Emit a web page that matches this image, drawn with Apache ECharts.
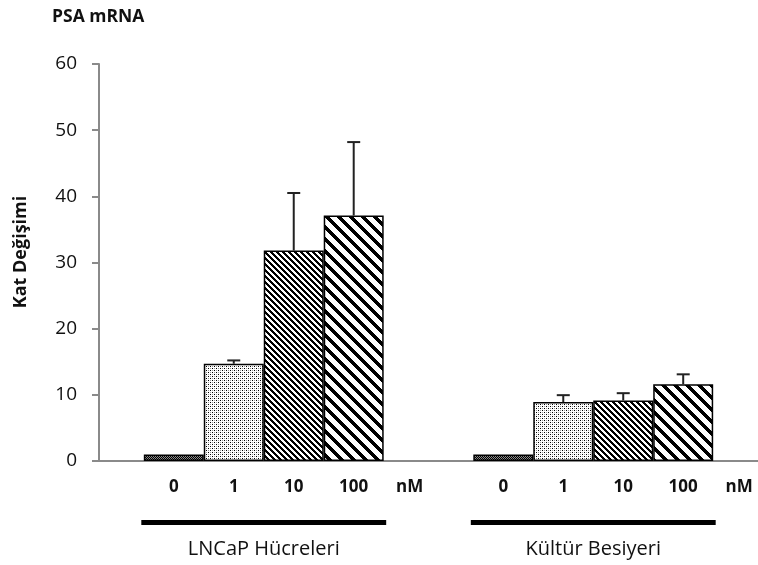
<!DOCTYPE html>
<html>
<head>
<meta charset="utf-8">
<script src="https://cdn.jsdelivr.net/npm/echarts@6/dist/echarts.min.js"></script>
<style>
  html, body { margin: 0; padding: 0; background: #fff; }
  #chart { width: 758px; height: 565px; }
</style>
</head>
<body>
<div id="chart"></div>
<script>
// Groups along the x axis and the dose levels drawn inside each group
const groups = ['LNCaP Hücreleri', 'Kültür Besiyeri'];
const doses = ['0', '1', '10', '100'];
const doseUnit = 'nM';

// Fold change (mean) and upper error for each dose, per group
const lncapMeans = [1.0, 14.7, 31.8, 37.1];
const lncapErrors = [0, 0.5, 8.7, 11.1];
const mediumMeans = [1.0, 8.9, 9.15, 11.6];
const mediumErrors = [0, 1.05, 1.1, 1.5];

// Value axis ticks
const yTicks = [0, 10, 20, 30, 40, 50, 60];

const BAR_FRAC = 0.182; // bar width as a share of a category
const FONT = '"Open Sans", "Noto Sans", sans-serif';

// Fill patterns for each dose level
function makePattern(size, paint) {
  const c = document.createElement('canvas');
  c.width = size; c.height = size;
  const ctx = c.getContext('2d');
  ctx.fillStyle = '#fff';
  ctx.fillRect(0, 0, size, size);
  paint(ctx, size);
  return c;
}
function dots(ctx, list, color) {
  ctx.fillStyle = color;
  list.forEach(([x, y]) => ctx.fillRect(x, y, 1, 1));
}
function diagonal(size, thick) {
  return makePattern(size, (ctx, n) => {
    ctx.fillStyle = '#000';
    for (let y = 0; y < n; y++) {
      for (let x = 0; x < n; x++) {
        if (((x - y) % n + n) % n < thick) ctx.fillRect(x, y, 1, 1);
      }
    }
  });
}
const patterns = [
  makePattern(2, (ctx) => {
    dots(ctx, [[0, 0], [1, 1]], '#000');
    dots(ctx, [[1, 0], [0, 1]], '#8a8a8a');
  }),
  makePattern(4, (ctx) => {
    dots(ctx, [[0, 0], [2, 2]], '#000');
    dots(ctx, [[2, 0], [0, 2]], '#9a9a9a');
  }),
  diagonal(6, 3),
  diagonal(12, 5)
];

const chart = echarts.init(document.getElementById('chart'), null, { renderer: 'canvas' });

const means = [lncapMeans, mediumMeans];
const errors = [lncapErrors, mediumErrors];

const barSeries = doses.map((d, i) => ({
  name: d,
  type: 'bar',
  barWidth: (BAR_FRAC * 100) + '%',
  barGap: '0%',
  data: groups.map((g, gi) => means[gi][i]),
  itemStyle: {
    color: { image: patterns[i], repeat: 'repeat' },
    borderColor: '#000',
    borderWidth: 1.5
  },
  label: {
    show: true,
    position: 'bottom',
    distance: 17,
    formatter: () => d,
    color: '#111',
    fontFamily: FONT,
    fontWeight: 'bold',
    fontSize: 17,
    lineHeight: 18
  },
  emphasis: { disabled: true },
  z: 2
}));

// Error bar items: [group index, dose index, mean, error]
const errorData = [];
groups.forEach((g, gi) => {
  doses.forEach((d, di) => {
    errorData.push([gi, di, means[gi][di], errors[gi][di]]);
  });
});

const errorSeries = {
  type: 'custom',
  data: errorData,
  encode: { x: 0, y: 2 },
  z: 3,
  silent: true,
  renderItem: (params, api) => {
    const err = api.value(3);
    if (!err) return null;
    const gi = api.value(0);
    const di = api.value(1);
    const mean = api.value(2);
    const base = api.coord([gi, mean]);
    const w = api.size([1, 0])[0] * BAR_FRAC;
    const x = base[0] + (di - 1.5) * w;
    const top = api.coord([gi, mean + err])[1];
    const style = { stroke: '#222', lineWidth: 2 };
    return {
      type: 'group',
      children: [
        { type: 'line', shape: { x1: x, y1: base[1], x2: x, y2: top }, style },
        { type: 'line', shape: { x1: x - 6.5, y1: top, x2: x + 6.5, y2: top }, style }
      ]
    };
  }
};

chart.setOption({
  animation: false,
  backgroundColor: '#fff',
  grid: { left: 99, right: -6, top: 64, bottom: 104 },
  xAxis: {
    type: 'category',
    data: groups,
    axisLine: { lineStyle: { color: '#8a8a8a', width: 2 } },
    axisTick: { show: false },
    axisLabel: {
      margin: 78,
      color: '#111',
      fontFamily: FONT,
      fontSize: 20
    }
  },
  yAxis: {
    type: 'value',
    min: yTicks[0],
    max: yTicks[yTicks.length - 1],
    interval: yTicks[1] - yTicks[0],
    axisLine: { show: true, lineStyle: { color: '#8a8a8a', width: 2 } },
    axisTick: { show: true, length: 7, lineStyle: { color: '#8a8a8a', width: 2 } },
    splitLine: { show: false },
    axisLabel: {
      margin: 22,
      color: '#111',
      fontFamily: FONT,
      fontSize: 19
    }
  },
  series: barSeries.concat([errorSeries])
});

// Annotations: titles, unit labels and group underlines
function buildGraphics() {
  const items = [
    {
      type: 'text', left: 52, top: 8,
      style: { text: 'PSA mRNA', fill: '#111', font: 'bold 17.5px ' + FONT }
    },
    {
      type: 'text', x: 21, y: 252, rotation: Math.PI / 2,
      style: { text: 'Kat Değişimi', fill: '#111', font: 'bold 18px ' + FONT, align: 'center', verticalAlign: 'middle' }
    }
  ];
  const c0 = chart.convertToPixel({ xAxisIndex: 0 }, 0);
  const c1 = chart.convertToPixel({ xAxisIndex: 0 }, 1);
  const catW = c1 - c0;
  const w = catW * BAR_FRAC;
  const base = chart.convertToPixel({ yAxisIndex: 0 }, 0);
  groups.forEach((g, gi) => {
    const cx = chart.convertToPixel({ xAxisIndex: 0 }, gi);
    items.push({
      type: 'text', x: cx + 2.5 * w - 4, y: base + 26,
      style: { text: doseUnit, fill: '#111', font: 'bold 17px ' + FONT, align: 'center', verticalAlign: 'middle' }
    });
    items.push({
      type: 'line',
      shape: { x1: cx - 2 * w - 2.5, y1: base + 61.5, x2: cx + 2 * w + 2.5, y2: base + 61.5 },
      style: { stroke: '#000', lineWidth: 5 }
    });
  });
  return items;
}
chart.setOption({ graphic: buildGraphics() });
</script>
</body>
</html>
